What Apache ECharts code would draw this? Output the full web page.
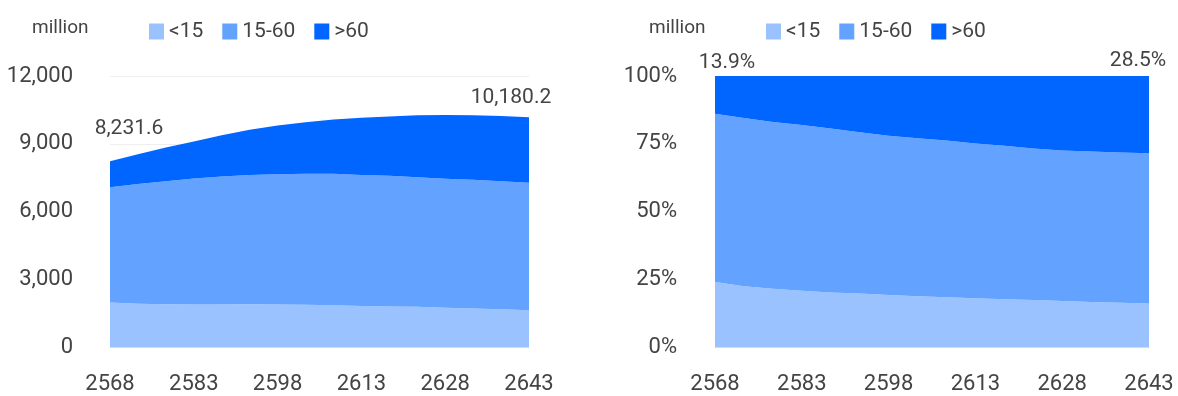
<!DOCTYPE html>
<html>
<head>
<meta charset="utf-8">
<script src="https://cdn.jsdelivr.net/npm/echarts@6/dist/echarts.min.js"></script>
<style>
  html, body { margin: 0; padding: 0; background: #fff; }
  #chart { width: 1178px; height: 396px; }
</style>
</head>
<body>
<div id="chart"></div>
<script>
// years (Buddhist era), every 5 years
const years = ['2568', '2573', '2578', '2583', '2588', '2593', '2598', '2603',
  '2608', '2613', '2618', '2623', '2628', '2633', '2638', '2643'];

// population by age group, million
const under15 = [1984, 1931, 1909, 1904, 1902, 1909, 1899, 1884,
  1863, 1837, 1817, 1796, 1758, 1725, 1688, 1649];
const age15to60 = [5103.6, 5290, 5437, 5566, 5660, 5716, 5756, 5793,
  5815, 5786, 5769, 5725, 5705, 5686, 5657, 5630.2];
const over60 = [1144, 1325, 1494, 1640, 1818, 1995, 2155, 2283,
  2397, 2527, 2624, 2739, 2817, 2854, 2885, 2901];

const seriesNames = ['<15', '15-60', '>60'];
const colors = ['#99C2FF', '#64A2FF', '#0066FF'];

const fontFamily = "Roboto, 'Noto Sans', sans-serif";
const textColor = '#444';

const totals = years.map((_, i) => under15[i] + age15to60[i] + over60[i]);
const pct = (arr) => arr.map((v, i) => (v / totals[i]) * 100);

const lastIdx = years.length - 1;

const fmtNum = (v) =>
  v.toLocaleString('en-US', { minimumFractionDigits: 1, maximumFractionDigits: 1 });

const chart = echarts.init(document.getElementById('chart'));

const makeSeries = (gridIdx, dataSets, stack, topLabel) =>
  dataSets.map((data, k) => ({
    name: seriesNames[k],
    type: 'line',
    stack: stack,
    xAxisIndex: gridIdx,
    yAxisIndex: gridIdx,
    data: data,
    symbol: 'circle',
    symbolSize: 0,
    showSymbol: true,
    smooth: false,
    lineStyle: { width: 0 },
    areaStyle: { color: colors[k], opacity: 1 },
    itemStyle: { color: colors[k] },
    z: 2,
    label: k === 2 ? topLabel : { show: false },
  }));

const leftLabel = {
  show: true,
  position: 'top',
  distance: 5,
  fontSize: 21,
  color: textColor,
  fontFamily: fontFamily,
  formatter: (p) => {
    if (p.dataIndex === 0 || p.dataIndex === lastIdx) return fmtNum(totals[p.dataIndex]);
    return '';
  },
};

const rightLabel = {
  show: true,
  position: 'top',
  distance: 5,
  fontSize: 21,
  color: textColor,
  fontFamily: fontFamily,
  formatter: (p) => {
    if (p.dataIndex === 0 || p.dataIndex === lastIdx)
      return ((over60[p.dataIndex] / totals[p.dataIndex]) * 100).toFixed(1) + '%';
    return '';
  },
};

// per-point label offsets (first / last point)
const withOffsets = (series, first, last) => {
  const s = series[2];
  s.data = s.data.map((v, i) => {
    if (i === 0) return { value: v, label: { offset: first } };
    if (i === lastIdx) return { value: v, label: { offset: last } };
    return v;
  });
  return series;
};

const leftSeries = withOffsets(
  makeSeries(0, [under15, age15to60, over60], 'abs', leftLabel),
  [19, -17], [-18, -4]
);
const rightSeries = withOffsets(
  makeSeries(1, [pct(under15), pct(age15to60), pct(over60)], 'pct', rightLabel),
  [12, 2], [-11, 0]
);

const xAxisCommon = {
  type: 'category',
  data: years,
  boundaryGap: false,
  axisLine: { show: true, lineStyle: { color: '#e4e4e4', width: 1 } },
  axisTick: { show: false },
  axisLabel: { interval: 2, fontSize: 22, color: textColor, fontFamily: fontFamily, margin: 26 },
};

const yAxisCommon = {
  type: 'value',
  min: 0,
  axisLine: { show: false },
  axisTick: { show: false },
  splitLine: { show: true, lineStyle: { color: '#eeeeee', width: 1 } },
};

const legendCommon = {
  data: seriesNames,
  padding: 0,
  itemWidth: 15,
  itemHeight: 16,
  itemGap: 19,
  icon: 'rect',
  textStyle: { fontSize: 21, color: textColor, fontFamily: fontFamily },
};

const titleStyle = { fontSize: 19, fontWeight: 'normal', color: textColor, fontFamily: fontFamily };

const option = {
  animation: false,
  textStyle: { fontFamily: fontFamily },
  title: [
    { text: 'million', left: 32, top: 19, padding: 0, textStyle: titleStyle },
    { text: 'million', left: 649, top: 19, padding: 0, textStyle: titleStyle },
  ],
  legend: [
    Object.assign({ left: 149, top: 21 }, legendCommon),
    Object.assign({ left: 766, top: 21 }, legendCommon),
  ],
  grid: [
    { left: 110, top: 76, width: 419, height: 271.5, containLabel: false },
    { left: 715, top: 76, width: 434, height: 271.5, containLabel: false },
  ],
  xAxis: [
    Object.assign({ gridIndex: 0 }, xAxisCommon),
    Object.assign({ gridIndex: 1 }, xAxisCommon),
  ],
  yAxis: [
    Object.assign({}, yAxisCommon, {
      gridIndex: 0,
      max: 12000,
      interval: 3000,
      axisLabel: {
        fontSize: 22, color: textColor, fontFamily: fontFamily, margin: 37,
        formatter: (v) => v.toLocaleString('en-US'),
      },
    }),
    Object.assign({}, yAxisCommon, {
      gridIndex: 1,
      max: 100,
      interval: 25,
      axisLabel: {
        fontSize: 22, color: textColor, fontFamily: fontFamily, margin: 38,
        formatter: '{value}%',
      },
    }),
  ],
  series: leftSeries.concat(rightSeries),
};

chart.setOption(option);
</script>
</body>
</html>
